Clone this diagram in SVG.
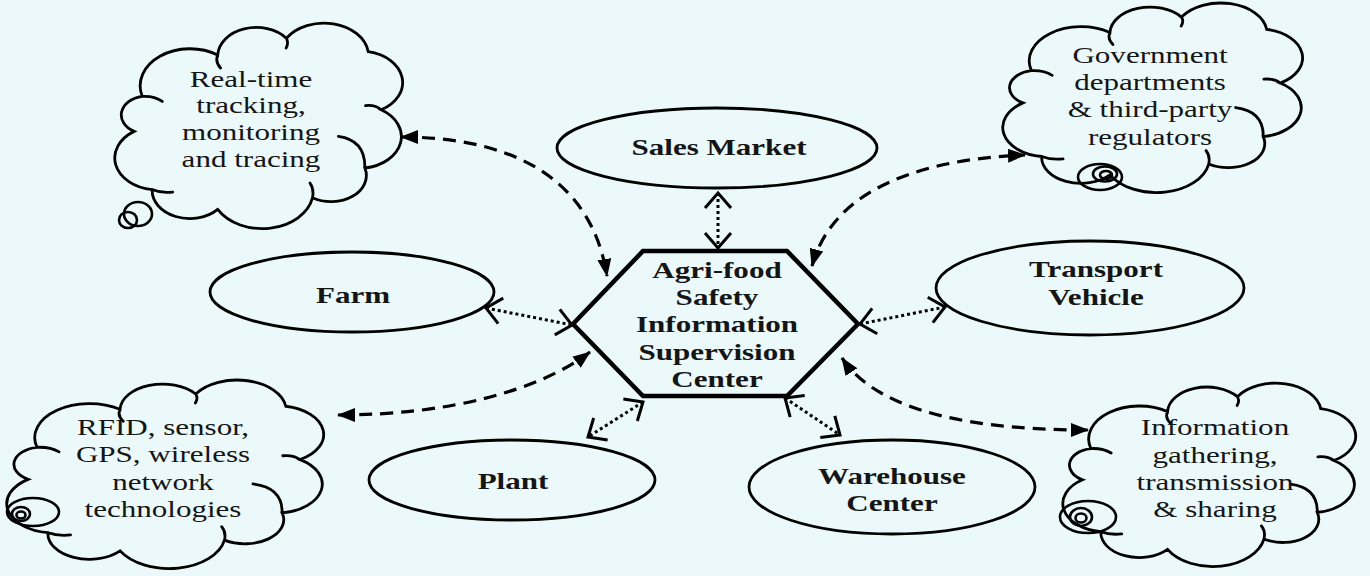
<svg xmlns="http://www.w3.org/2000/svg" xmlns:xlink="http://www.w3.org/1999/xlink" width="1370" height="576" viewBox="0 0 1370 576">
<style>
.bg{fill:#ebf9fa}
.node{fill:none;stroke:#000;stroke-width:2.8}
.hex{fill:none;stroke:#000;stroke-width:4.5;stroke-linejoin:miter}
.cl{fill:none;stroke:#000;stroke-width:2.8;vector-effect:non-scaling-stroke;stroke-linecap:round}
.bub{fill:none;stroke:#000;stroke-width:2.6}
.t{font-family:"Liberation Serif","Times New Roman",serif;font-size:22.5px;fill:#151515;text-anchor:middle}
.b{font-weight:bold}
.dash{fill:none;stroke:#000;stroke-width:3.2;stroke-dasharray:13 8}
.dot{fill:none;stroke:#000;stroke-width:3;stroke-dasharray:3 3}
</style>
<defs>
<marker id="tri" viewBox="0 0 18 14" refX="17" refY="7" markerWidth="18" markerHeight="14" markerUnits="userSpaceOnUse" orient="auto-start-reverse">
<path d="M0,0 L18,7 L0,14 z" fill="#000"/>
</marker>
<marker id="vee" viewBox="0 0 20 30" refX="17" refY="15" markerWidth="20" markerHeight="30" markerUnits="userSpaceOnUse" orient="auto-start-reverse">
<path d="M2,2 L17,15 L2,28" fill="none" stroke="#000" stroke-width="3"/>
</marker>
<path id="cloud" class="cl" d="M8.7 34.1 A17.7 17.7 0 0 1 35.5 14.3 A13.7 13.7 0 0 1 59.9 6.3 A15.9 15.9 0 0 1 89 12.7 A15 15 0 0 1 93.6 40.5 A15.1 15.1 0 0 1 87.8 68.3 A12.5 12.5 0 0 1 69.2 82.5 A18.2 18.2 0 0 1 35.5 88.1 A13.4 13.4 0 0 1 12.2 78.6 A15.2 15.2 0 0 1 5.8 50.8 A9 9 0 0 1 8.7 34.1 Z M35.5 14.3 Q34.5 17.5 36.5 20.5 M59.9 6.3 Q60.8 8.5 59.8 11 M93.6 40.5 Q91.5 38 88 38.5 M78.4 53.2 Q88 55 87.8 68.3 M69.2 82.5 Q69.8 78.5 68.3 75.5 M12.2 78.6 Q15.5 80.5 19.5 79.8 M8.7 34.1 Q13 33.8 15.8 36.5"/>
</defs>
<rect class="bg" x="0" y="0" width="1370" height="576"/>

<g id="connectors">
<path class="dash" d="M401 137 C500 137 590 170 607 276" marker-start="url(#tri)" marker-end="url(#tri)"/>
<path class="dash" d="M812 266 C830 200 900 160 1025 155" marker-start="url(#tri)" marker-end="url(#tri)"/>
<path class="dash" d="M338 415 C450 415 540 390 590 352" marker-start="url(#tri)" marker-end="url(#tri)"/>
<path class="dash" d="M842 358 C870 400 940 430 1088 430" marker-start="url(#tri)" marker-end="url(#tri)"/>
<path class="dot" d="M718 193 L718 248" marker-start="url(#vee)" marker-end="url(#vee)"/>
<path class="dot" d="M486 308 L572 325" marker-start="url(#vee)" marker-end="url(#vee)"/>
<path class="dot" d="M860 324 L945 307" marker-start="url(#vee)" marker-end="url(#vee)"/>
<path class="dot" d="M643 402 L588 437" marker-start="url(#vee)" marker-end="url(#vee)"/>
<path class="dot" d="M785 398 L840 435" marker-start="url(#vee)" marker-end="url(#vee)"/>
</g>

<g id="node-center">
<polygon class="hex" points="643,251 787,251 858,324 787,396 643,396 573,324"/>
<text class="t b" transform="translate(717,0) scale(1.38,1)"><tspan x="0" y="278">Agri-food</tspan><tspan x="0" y="305">Safety</tspan><tspan x="0" y="332">Information</tspan><tspan x="0" y="360">Supervision</tspan><tspan x="0" y="387">Center</tspan></text>
</g>

<g id="node-sales">
<ellipse class="node" cx="717" cy="148" rx="160" ry="40"/>
<text class="t b" transform="translate(719,155) scale(1.38,1)">Sales Market</text>
</g>

<g id="node-farm">
<ellipse class="node" cx="352" cy="292" rx="142" ry="40"/>
<text class="t b" transform="translate(353,303) scale(1.38,1)">Farm</text>
</g>

<g id="node-transport">
<ellipse class="node" cx="1090" cy="288" rx="154" ry="47"/>
<text class="t b" transform="translate(1096,0) scale(1.38,1)"><tspan x="0" y="277">Transport</tspan><tspan x="0" y="305">Vehicle</tspan></text>
</g>

<g id="node-plant">
<ellipse class="node" cx="512" cy="480" rx="143" ry="40"/>
<text class="t b" transform="translate(513,489) scale(1.38,1)">Plant</text>
</g>

<g id="node-warehouse">
<ellipse class="node" cx="892" cy="487" rx="143" ry="47"/>
<text class="t b" transform="translate(892,0) scale(1.38,1)"><tspan x="0" y="484">Warehouse</tspan><tspan x="0" y="511">Center</tspan></text>
</g>

<g id="cloud-realtime">
<use xlink:href="#cloud" href="#cloud" transform="translate(117.8,25.1) scale(2.814,2.092)"/>
<ellipse class="bub" cx="138" cy="214" rx="14" ry="12"/>
<ellipse class="bub" cx="128" cy="220" rx="9" ry="8"/>
<text class="t" transform="translate(251,0) scale(1.38,1)"><tspan x="0" y="87">Real-time</tspan><tspan x="0" y="113">tracking,</tspan><tspan x="0" y="140">monitoring</tspan><tspan x="0" y="167">and tracing</tspan></text>
</g>

<g id="cloud-government">
<use xlink:href="#cloud" href="#cloud" transform="translate(1005.9,4.9) scale(2.931,1.929)"/>
<ellipse class="bub" cx="1100" cy="177" rx="22" ry="13"/>
<ellipse class="bub" cx="1105" cy="174" rx="12" ry="7.5"/>
<ellipse class="bub" cx="1106" cy="175" rx="6" ry="4"/>
<text class="t" transform="translate(1150,0) scale(1.38,1)"><tspan x="0" y="63">Government</tspan><tspan x="0" y="90">departments</tspan><tspan x="0" y="117">&amp; third-party</tspan><tspan x="0" y="145">regulators</tspan></text>
</g>

<g id="cloud-rfid">
<use xlink:href="#cloud" href="#cloud" transform="translate(10.1,381.9) scale(3.098,1.918)"/>
<ellipse class="bub" cx="33" cy="512" rx="26" ry="14"/>
<ellipse class="bub" cx="21" cy="514" rx="9" ry="7"/>
<ellipse class="bub" cx="21" cy="515" rx="4.5" ry="3.5"/>
<text class="t" transform="translate(163,0) scale(1.38,1)"><tspan x="0" y="435">RFID, sensor,</tspan><tspan x="0" y="462">GPS, wireless</tspan><tspan x="0" y="490">network</tspan><tspan x="0" y="517">technologies</tspan></text>
</g>

<g id="cloud-info">
<use xlink:href="#cloud" href="#cloud" transform="translate(1065.9,384.9) scale(2.863,1.867)"/>
<ellipse class="bub" cx="1088" cy="517" rx="28" ry="16"/>
<ellipse class="bub" cx="1081" cy="517" rx="11" ry="9"/>
<ellipse class="bub" cx="1081" cy="518" rx="5.5" ry="4.5"/>
<text class="t" transform="translate(1215,0) scale(1.38,1)"><tspan x="0" y="435">Information</tspan><tspan x="0" y="463">gathering,</tspan><tspan x="0" y="490">transmission</tspan><tspan x="0" y="517">&amp; sharing</tspan></text>
</g>
</svg>
